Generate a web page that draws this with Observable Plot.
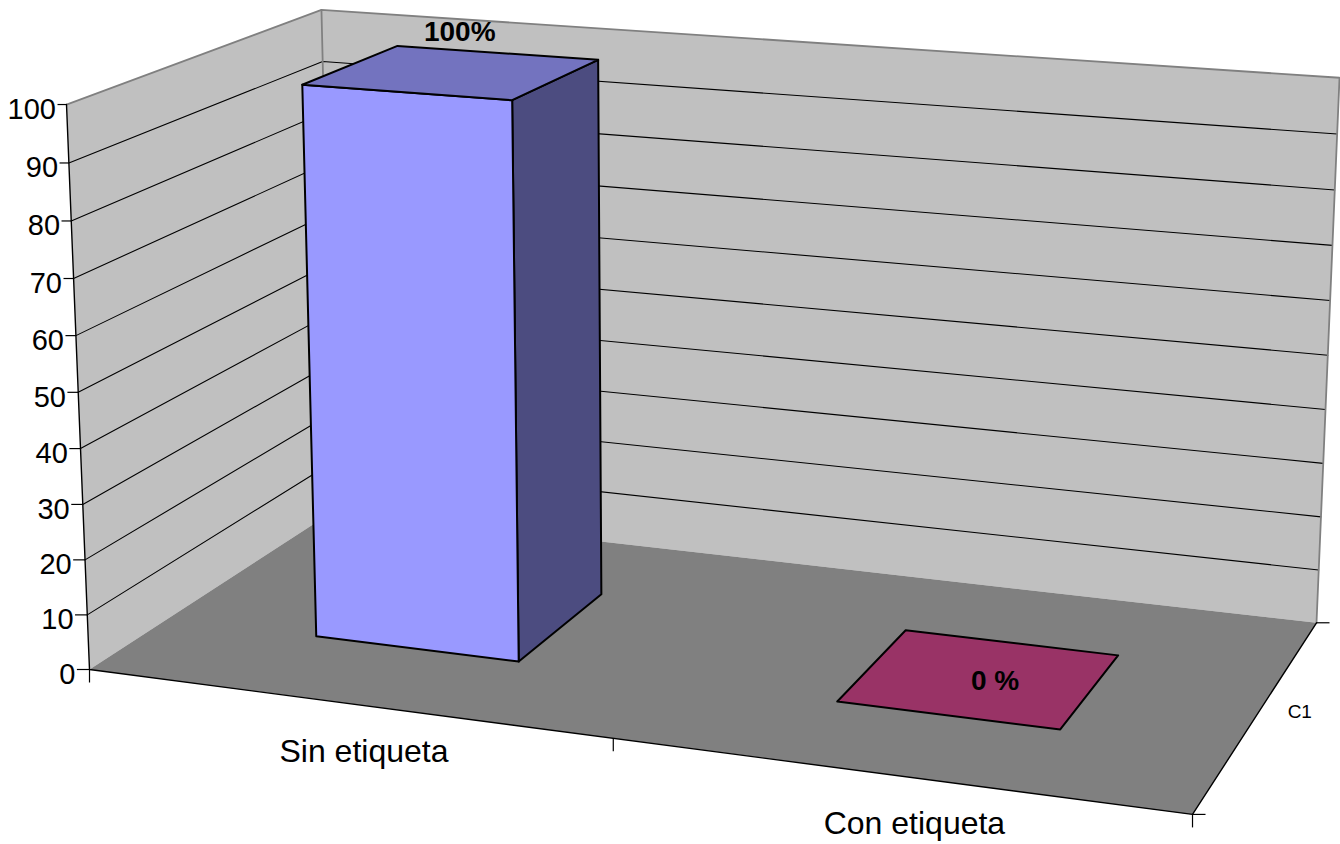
<!DOCTYPE html>
<html>
<head>
<meta charset="utf-8">
<script src="https://cdn.jsdelivr.net/npm/d3@7"></script>
<script src="https://cdn.jsdelivr.net/npm/@observablehq/plot@0.6"></script>
<style>
  html, body { margin: 0; padding: 0; background: #fff; overflow: hidden; }
  #chart { width: 1340px; height: 844px; }
</style>
</head>
<body>
<div id="chart"></div>
<script>
// ---- data ----
const categories = ["Sin etiqueta", "Con etiqueta"];
const values = [100, 0];
const valueLabels = ["100%", "0 %"];
const seriesNames = ["C1"];
const valueTicks = [0, 10, 20, 30, 40, 50, 60, 70, 80, 90, 100];

// ---- styling ----
const FONT = "'Liberation Sans', Arial, Helvetica, sans-serif";
const barStyles = [
  {front: "#9999FF", top: "#7373BF", side: "#4C4C80"},
  {front: "#993366", top: "#993366", side: "#662244"}
];
const wallFill = "#C0C0C0";
const floorFill = "#808080";
const edgeGray = "#808080";

// ---- 3D box -> screen (perspective camera, homogeneous form) ----
// u: category axis (0..1), v: depth axis (0..1, front to back), w: value axis (0..1)
const cam = {
  x0: 89, y0: 669,
  ax: 988.9, ay: 67.0,
  bx: 288.6, by: -89.85,
  cx: -25.43, cy: -568.8,
  a: -0.09573, b: 0.1341, c: -0.03684
};
function project(u, v, w) {
  const d = 1 + cam.a * u + cam.b * v + cam.c * w;
  return [
    (cam.x0 + cam.ax * u + cam.bx * v + cam.cx * w) / d,
    (cam.y0 + cam.ay * u + cam.by * v + cam.cy * w) / d
  ];
}

// scales for the three axes of the box
const uScale = d3.scaleBand().domain(categories).range([0, 1]).paddingInner(0.6).paddingOuter(0.3);
const vScale = d3.scaleBand().domain(seriesNames).range([0, 1]).paddingOuter(0.75);
const wScale = d3.scaleLinear().domain([0, 100]).range([0, 1]);

// ---- geometry builders ----
function pushFace(list, id, fill, pts) {
  for (const [u, v, w] of pts) {
    const [x, y] = project(u, v, w);
    list.push({id, fill, x, y});
  }
}
function polyline(list, id, pts) {
  for (const [u, v, w] of pts) {
    const [x, y] = project(u, v, w);
    list.push({id, x, y});
  }
}

// walls and floor
const walls = [];
pushFace(walls, "left", wallFill, [[0,0,0],[0,1,0],[0,1,1],[0,0,1]]);
pushFace(walls, "back", wallFill, [[0,1,0],[1,1,0],[1,1,1],[0,1,1]]);
const floor = [];
pushFace(floor, "floor", floorFill, [[0,0,0],[1,0,0],[1,1,0],[0,1,0]]);

// gridlines along the left and back walls
const grid = [];
for (const t of valueTicks) {
  if (t === valueTicks[0] || t === valueTicks[valueTicks.length - 1]) continue;
  const w = wScale(t);
  polyline(grid, "g" + t, [[0,0,w],[0,1,w],[1,1,w]]);
}

// outer wall edges
const wallEdges = [];
polyline(wallEdges, "top", [[0,0,1],[0,1,1],[1,1,1],[1,1,0]]);
polyline(wallEdges, "corner", [[0,1,0],[0,1,1]]);

// axis lines
const axes = [];
polyline(axes, "axes", [[0,0,1],[0,0,0],[1,0,0],[1,1,0]]);

// bars
const polys = [];
const bw = uScale.bandwidth();
const v0 = vScale(seriesNames[0]);
const v1 = v0 + vScale.bandwidth();
categories.forEach((c, i) => {
  const u0 = uScale(c), u1 = u0 + bw;
  const h = wScale(values[i]);
  const s = barStyles[i];
  if (h > 0) {
    pushFace(polys, c + "-side", s.side, [[u1,v0,0],[u1,v1,0],[u1,v1,h],[u1,v0,h]]);
    pushFace(polys, c + "-front", s.front, [[u0,v0,0],[u1,v0,0],[u1,v0,h],[u0,v0,h]]);
  }
  pushFace(polys, c + "-top", s.top, [[u0,v0,h],[u1,v0,h],[u1,v1,h],[u0,v1,h]]);
});

// ticks (value-axis ticks shorten toward the top of the wall)
const tickLen = w => 12.6 - 3.6 * w;
const valueTickData = valueTicks.map(t => {
  const w = wScale(t);
  const [x, y] = project(0, 0, w);
  return {t, x, y, len: tickLen(w)};
});
const catTickData = d3.range(categories.length + 1).map(i => {
  const [x, y] = project(i * uScale.step(), 0, 0);
  return {x, y};
});
const depthTickData = [0, 1].map(v => {
  const [x, y] = project(1, v, 0);
  return {x, y};
});

// labels
const catLabelData = categories.map(c => {
  const [x, y] = project(uScale(c) + bw / 2, 0, 0);
  return {c, x, y};
});
const barLabelData = categories.map((c, i) => {
  const h = wScale(values[i]);
  const [x, y] = project(uScale(c) + bw / 2, (v0 + v1) / 2, h);
  return {label: valueLabels[i], value: values[i], x, y};
});
const seriesLabelData = seriesNames.map(s => {
  const [x, y] = project(1, vScale(s) + vScale.bandwidth() / 2, 0);
  return {s, x, y};
});

const chart = Plot.plot({
  width: 1340,
  height: 844,
  margin: 0,
  x: {type: "identity", axis: null},
  y: {type: "identity", axis: null},
  color: {type: "identity"},
  style: {background: "white", fontFamily: FONT},
  marks: [
    // walls
    Plot.line(walls, {x: "x", y: "y", z: "id", fill: "fill", stroke: null, curve: "linear-closed"}),
    // gridlines
    Plot.line(grid, {x: "x", y: "y", z: "id", stroke: "black", strokeWidth: 1.1, strokeLinejoin: "miter"}),
    // gray wall edges
    Plot.line(wallEdges, {x: "x", y: "y", z: "id", stroke: edgeGray, strokeWidth: 1.8, strokeLinejoin: "miter"}),
    // floor
    Plot.line(floor, {x: "x", y: "y", z: "id", fill: "fill", stroke: null, curve: "linear-closed"}),
    // axis lines
    Plot.line(axes, {x: "x", y: "y", z: "id", stroke: "black", strokeWidth: 1.4, strokeLinejoin: "miter"}),
    // value ticks
    Plot.link(valueTickData, {x1: d => d.x - d.len, x2: "x", y1: "y", y2: "y", stroke: "black", strokeWidth: 1.2}),
    // category ticks
    Plot.link(catTickData, {x1: "x", x2: "x", y1: "y", y2: d => d.y + 13, stroke: "black", strokeWidth: 1.2}),
    // depth ticks
    Plot.link(depthTickData, {x1: "x", x2: d => d.x + 13, y1: "y", y2: "y", stroke: "black", strokeWidth: 1.2}),
    // bars
    Plot.line(polys, {x: "x", y: "y", z: "id", fill: "fill", stroke: "black", strokeWidth: 2, strokeLinejoin: "round", curve: "linear-closed"}),
    // value tick labels
    Plot.text(valueTickData, {x: d => d.x - d.len - 1.5, y: "y", text: d => String(d.t), textAnchor: "end", lineAnchor: "middle", dy: 5, fontSize: 29, fill: "black"}),
    // category labels
    Plot.text(catLabelData, {x: "x", y: "y", text: "c", textAnchor: "middle", lineAnchor: "bottom", dx: 19, dy: 58.5, fontSize: 32, fill: "black"}),
    // series label on the depth axis
    Plot.text(seriesLabelData, {x: "x", y: "y", text: "s", textAnchor: "middle", lineAnchor: "middle", dx: 41, fontSize: 19, fill: "black"}),
    // value labels: above bar tops
    Plot.text(barLabelData.filter(d => d.value > 0), {x: "x", y: "y", text: "label", textAnchor: "middle", lineAnchor: "bottom", dx: 7, dy: -31, fontSize: 28, fontWeight: "bold", fill: "black"}),
    // value labels: on zero-height bars
    Plot.text(barLabelData.filter(d => d.value === 0), {x: "x", y: "y", text: "label", textAnchor: "middle", lineAnchor: "bottom", dx: 15, dy: 11.5, fontSize: 28, fontWeight: "bold", fill: "black"})
  ]
});
document.getElementById("chart").appendChild(chart);
</script>
</body>
</html>
